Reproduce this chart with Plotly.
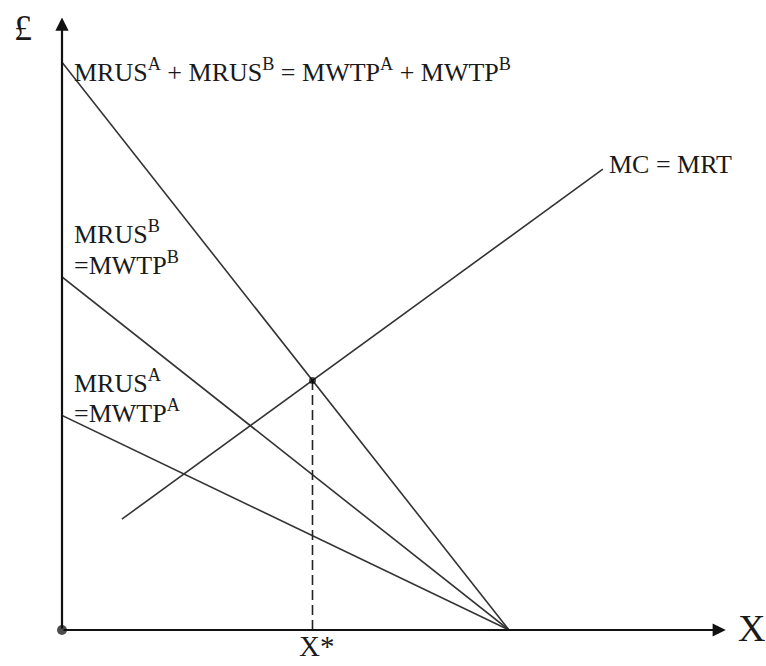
import plotly.graph_objects as go

# Demand curves (vertical intercept, quantity where value reaches zero)
q_end = 10.0
mwtp_a = [4.8, 0.0]
mwtp_b = [7.9, 0.0]
q_demand = [0.0, q_end]
mwtp_sum = [a + b for a, b in zip(mwtp_a, mwtp_b)]

# Marginal cost curve
q_mc = [1.34, 12.1]
mc = [2.48, 10.31]

# Optimal provision where summed willingness to pay meets marginal cost
def _line(xs, ys):
    m = (ys[1] - ys[0]) / (xs[1] - xs[0])
    return m, ys[0] - m * xs[0]

m1, c1 = _line(q_demand, mwtp_sum)
m2, c2 = _line(q_mc, mc)
x_star = (c2 - c1) / (m1 - m2)
y_star = m1 * x_star + c1

X_MAX = 704 / 44.7
Y_MAX = 630 / 44.7
FONT = "Liberation Serif"
LINE = dict(color="#333333", width=1.6)

fig = go.Figure()
fig.add_trace(go.Scatter(x=q_demand, y=mwtp_sum, mode="lines", line=LINE, hoverinfo="skip"))
fig.add_trace(go.Scatter(x=q_demand, y=mwtp_b, mode="lines", line=LINE, hoverinfo="skip"))
fig.add_trace(go.Scatter(x=q_demand, y=mwtp_a, mode="lines", line=LINE, hoverinfo="skip"))
fig.add_trace(go.Scatter(x=q_mc, y=mc, mode="lines", line=LINE, hoverinfo="skip"))
fig.add_trace(go.Scatter(x=[x_star, x_star], y=[0, y_star], mode="lines",
                         line=dict(color="#222222", width=1.6, dash="10px,5px"), hoverinfo="skip"))
fig.add_trace(go.Scatter(x=[x_star, 0], y=[y_star, 0], mode="markers", cliponaxis=False,
                         marker=dict(color="black", size=[7, 10], line=dict(width=0)),
                         hoverinfo="skip"))

ann = []
# axes with arrowheads
ann.append(dict(x=14.85, y=0, ax=0, ay=0, xref="x", yref="y", axref="x", ayref="y",
                showarrow=True, arrowhead=2, arrowsize=1.2, arrowwidth=2.2, arrowcolor="#111111", text=""))
ann.append(dict(x=0, y=13.7, ax=0, ay=0, xref="x", yref="y", axref="x", ayref="y",
                showarrow=True, arrowhead=2, arrowsize=1.2, arrowwidth=2.2, arrowcolor="#111111", text=""))

PW, PH = 704.0, 630.0  # plot area in pixels


def label(text, px, py, size=26, xanchor="left"):
    # px, py: position in pixels relative to the plot area's lower-left corner
    ann.append(dict(text=text, x=px / PW, y=py / PH, xref="paper", yref="paper", showarrow=False,
                    xanchor=xanchor, yanchor="middle", borderpad=0,
                    font=dict(family=FONT, size=size, color="#1a1a1a")))


label("MRUS<sup>A</sup> + MRUS<sup>B</sup> = MWTP<sup>A</sup> + MWTP<sup>B</sup>", 11, 560)
label("MC = MRT", 546, 465)
label("MRUS<sup>B</sup>", 11, 398)
label("=MWTP<sup>B</sup>", 11, 367)
label("MRUS<sup>A</sup>", 11, 249)
label("=MWTP<sup>A</sup>", 11, 219)
label("£", -39, 602, size=36, xanchor="center")
label("X", 689, 2, size=38, xanchor="center")
label("X*", x_star * 44.7 + 4, -16, size=29, xanchor="center")

fig.update_layout(
    width=766, height=666,
    margin=dict(l=62, r=0, t=0, b=36),
    plot_bgcolor="white", paper_bgcolor="white",
    showlegend=False,
    xaxis=dict(range=[0, X_MAX], visible=False, fixedrange=True),
    yaxis=dict(range=[0, Y_MAX], visible=False, fixedrange=True),
    annotations=ann,
)

fig.write_html("out.html")
